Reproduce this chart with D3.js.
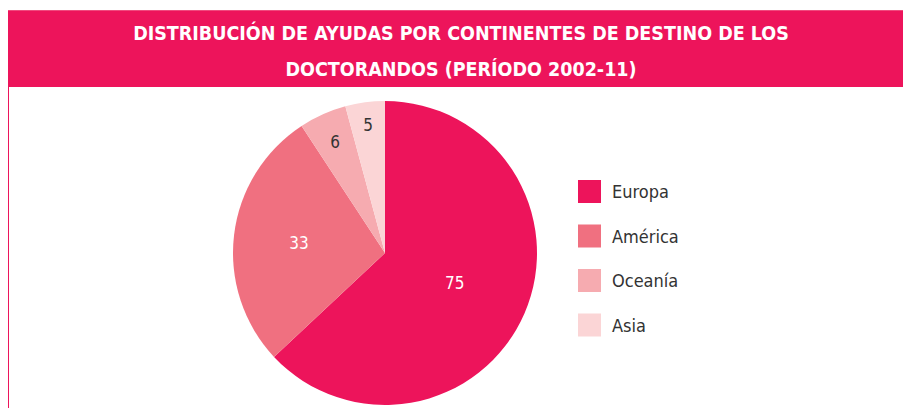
<!DOCTYPE html>
<meta charset="utf-8">
<style>
body { margin: 0; background: #fff; }
.title { fill: #fff; font-family: "DejaVu Sans Condensed", "Liberation Sans Narrow", sans-serif; font-weight: bold; font-size: 19.5px; }
.legend text { fill: #333; font-family: "DejaVu Sans Condensed", "Liberation Sans", sans-serif; font-size: 18px; }
.slice-label { fill: #fff; font-family: "DejaVu Sans Condensed", "Liberation Sans", sans-serif; font-size: 17px; }
.dark { fill: #333; }
</style>
<body>
<script src="https://d3js.org/d3.v7.min.js"></script>
<script>

// data
var continents = ["Europa", "América", "Oceanía", "Asia"];
var ayudas = [75, 33, 6, 5];
var colores = ["#ED145B", "#F07080", "#F6ABB0", "#FBD5D6"];
var titulo = ["DISTRIBUCIÓN DE AYUDAS POR CONTINENTES DE DESTINO DE LOS", "DOCTORANDOS (PERÍODO 2002-11)"];

var width = 903, height = 408;

var svg = d3.select("body").append("svg")
    .attr("width", width)
    .attr("height", height);

// header band
svg.append("rect")
    .attr("x", 8).attr("y", 10)
    .attr("width", width - 8).attr("height", 77)
    .attr("fill", "#ED145B");
svg.append("line")
    .attr("x1", 8).attr("x2", width)
    .attr("y1", 10.5).attr("y2", 10.5)
    .attr("stroke", "#F04A7E");

// left border
svg.append("line")
    .attr("x1", 8.5).attr("x2", 8.5)
    .attr("y1", 87).attr("y2", height)
    .attr("stroke", "#ED145B");

svg.selectAll(".title")
    .data(titulo)
    .enter().append("text")
    .attr("class", "title")
    .attr("x", 461)
    .attr("y", function(d, i) { return 40 + i * 36; })
    .attr("text-anchor", "middle")
    .text(function(d) { return d; });

// pie
var cx = 385, cy = 253, r = 152;
var color = d3.scaleOrdinal().domain(continents).range(colores);

var pie = d3.pie().sort(null).value(function(d) { return d.v; });
var arc = d3.arc().innerRadius(0).outerRadius(r);

var data = continents.map(function(c, i) { return {name: c, v: ayudas[i]}; });
var arcs = pie(data);

var g = svg.append("g").attr("transform", "translate(" + cx + "," + cy + ")");

g.selectAll("path")
    .data(arcs)
    .enter().append("path")
    .attr("d", arc)
    .attr("fill", function(d) { return color(d.data.name); });

// label radii (fraction of r), placed like the original
var labelR = [0.5, 0.57, 0.8, 0.85];
g.selectAll(".slice-label")
    .data(arcs)
    .enter().append("text")
    .attr("class", function(d, i) { return i >= 2 ? "slice-label dark" : "slice-label"; })
    .attr("transform", function(d, i) {
        var a = (d.startAngle + d.endAngle) / 2;
        var rr = labelR[i] * r;
        return "translate(" + (Math.sin(a) * rr) + "," + (-Math.cos(a) * rr) + ")";
    })
    .attr("text-anchor", "middle")
    .attr("dy", "0.35em")
    .text(function(d) { return d.data.v; });

// legend
var legend = svg.append("g").attr("class", "legend")
    .attr("transform", "translate(578,180)");

var item = legend.selectAll("g")
    .data(continents)
    .enter().append("g")
    .attr("transform", function(d, i) { return "translate(0," + (i * 44.5) + ")"; });

item.append("rect")
    .attr("width", 23).attr("height", 23)
    .attr("fill", function(d) { return color(d); });

item.append("text")
    .attr("x", 34).attr("y", 18)
    .text(function(d) { return d; });

</script>
</body>
